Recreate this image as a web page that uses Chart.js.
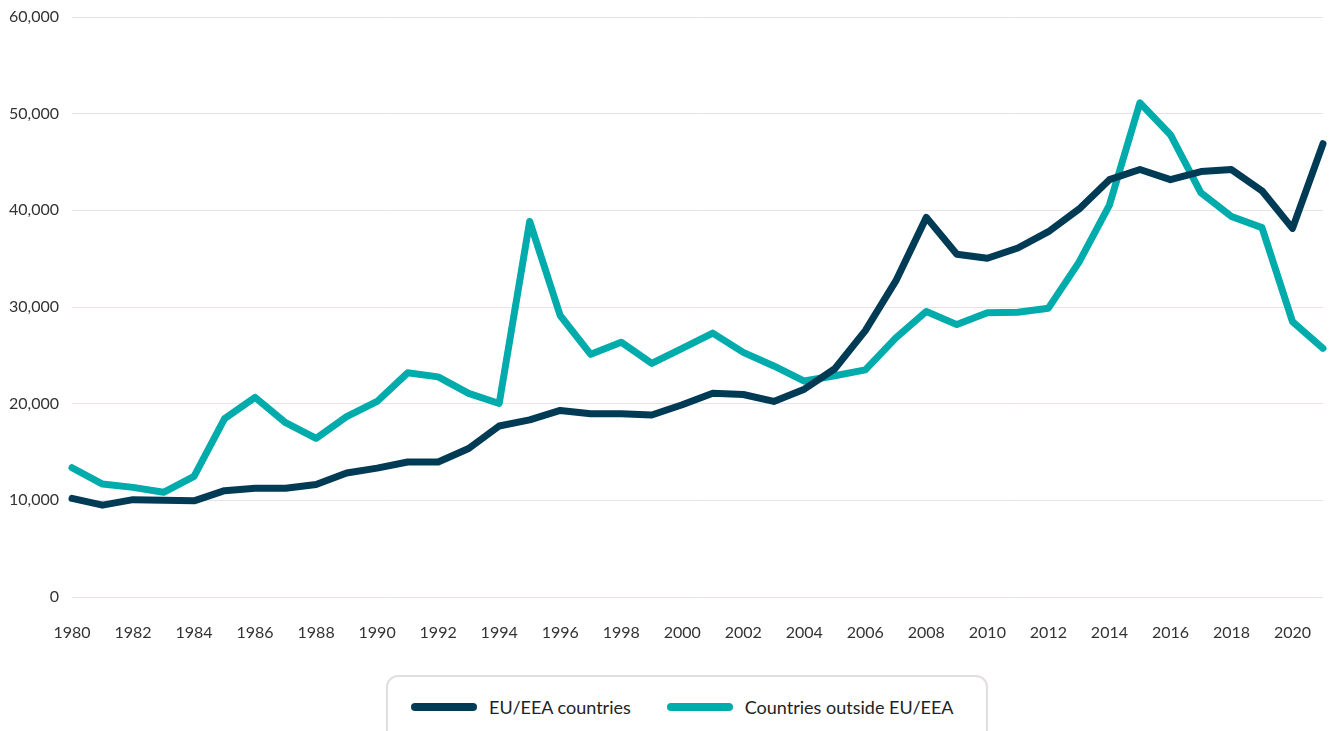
<!DOCTYPE html>
<html>
<head>
<meta charset="utf-8">
<script src="https://cdn.jsdelivr.net/npm/chart.js@4.4.1/dist/chart.umd.min.js"></script>
<style>
  html, body { margin: 0; padding: 0; background: #fff; }
  body { width: 1339px; height: 731px; overflow: hidden; position: relative; font-family: Lato, "Open Sans", sans-serif; }
  #wrap { position: absolute; left: 0; top: 0; width: 1339px; height: 660px; }
  #legend {
    position: absolute; left: 386px; top: 675px; width: 602px; height: 70px;
    border: 2px solid #e4dde0; border-radius: 12px; box-sizing: border-box;
    display: flex; align-items: flex-start; padding-top: 19px; padding-left: 23px;
  }
  .item { display: flex; align-items: center; margin-right: 36px; font-size: 18px; color: #222; white-space: nowrap; flex-shrink: 0; }
  .swatch { width: 66px; height: 8px; border-radius: 4px; margin-right: 12px; }
</style>
</head>
<body>
<div id="wrap"><canvas id="chart"></canvas></div>
<div id="legend"></div>
<script>
// years 1980..2021
const years = [];
for (let y = 1980; y <= 2021; y++) years.push(String(y));

const euEea = [10200, 9500, 10070, 10000, 9950, 11000, 11260, 11260, 11640, 12820,
  13330, 13970, 13970, 15360, 17690, 18320, 19300, 18960, 18960, 18830,
  19890, 21070, 20950, 20230, 21500, 23610, 27550, 32700, 39270, 35460,
  35040, 36100, 37790, 40120, 43170, 44220, 43170, 44010, 44220, 42020,
  38130, 46890];

const outsideEuEea = [13370, 11680, 11340, 10830, 12480, 18450, 20650, 18030, 16420, 18660,
  20230, 23190, 22770, 21070, 20020, 38850, 29120, 25100, 26360, 24160,
  25730, 27300, 25310, 23900, 22340, 22890, 23490, 26800, 29540, 28180,
  29410, 29450, 29880, 34620, 40540, 51120, 47820, 41810, 39360, 38210,
  28480, 25730];

const seriesNames = ['EU/EEA countries', 'Countries outside EU/EEA'];
const seriesColors = ['#003b55', '#00abac'];

const ctx = document.getElementById('chart').getContext('2d');
const chart = new Chart(ctx, {
  type: 'line',
  data: {
    labels: years,
    datasets: [
      { label: seriesNames[0], data: euEea, borderColor: seriesColors[0], backgroundColor: seriesColors[0] },
      { label: seriesNames[1], data: outsideEuEea, borderColor: seriesColors[1], backgroundColor: seriesColors[1] }
    ].map(d => Object.assign(d, {
      borderWidth: 7, pointRadius: 0, tension: 0,
      borderCapStyle: 'round', borderJoinStyle: 'round', clip: false
    }))
  },
  options: {
    responsive: true,
    maintainAspectRatio: false,
    animation: false,
    layout: { padding: { top: 17, right: 16, left: 0, bottom: 0 } },
    plugins: { legend: { display: false }, tooltip: { enabled: false } },
    scales: {
      x: {
        offset: false,
        grid: { display: false, drawTicks: false },
        border: { display: false },
        ticks: {
          autoSkip: false, maxRotation: 0, padding: 26,
          color: '#333', font: { family: 'Lato', size: 16 },
          callback: function (v, i) { const y = +this.getLabelForValue(v); return y % 2 === 0 ? String(y) : ''; }
        },
        afterFit: s => { s.height = 63; s.paddingLeft = 0; s.paddingRight = 0; }
      },
      y: {
        min: 0, max: 60000,
        grid: { color: '#e8e2e4', lineWidth: 1, drawTicks: false },
        border: { display: false },
        ticks: {
          stepSize: 10000, padding: 13,
          color: '#333', font: { family: 'Lato', size: 16 },
          callback: v => v.toLocaleString('en-US')
        },
        afterFit: s => { s.width = 72; s.paddingTop = 0; s.paddingBottom = 0; }
      }
    }
  }
});

// html legend built from the datasets
const legend = document.getElementById('legend');
chart.data.datasets.forEach(ds => {
  const it = document.createElement('div');
  it.className = 'item';
  it.innerHTML = '<span class="swatch" style="background:' + ds.borderColor + '"></span><span>' + ds.label + '</span>';
  legend.appendChild(it);
});
</script>
</body>
</html>
